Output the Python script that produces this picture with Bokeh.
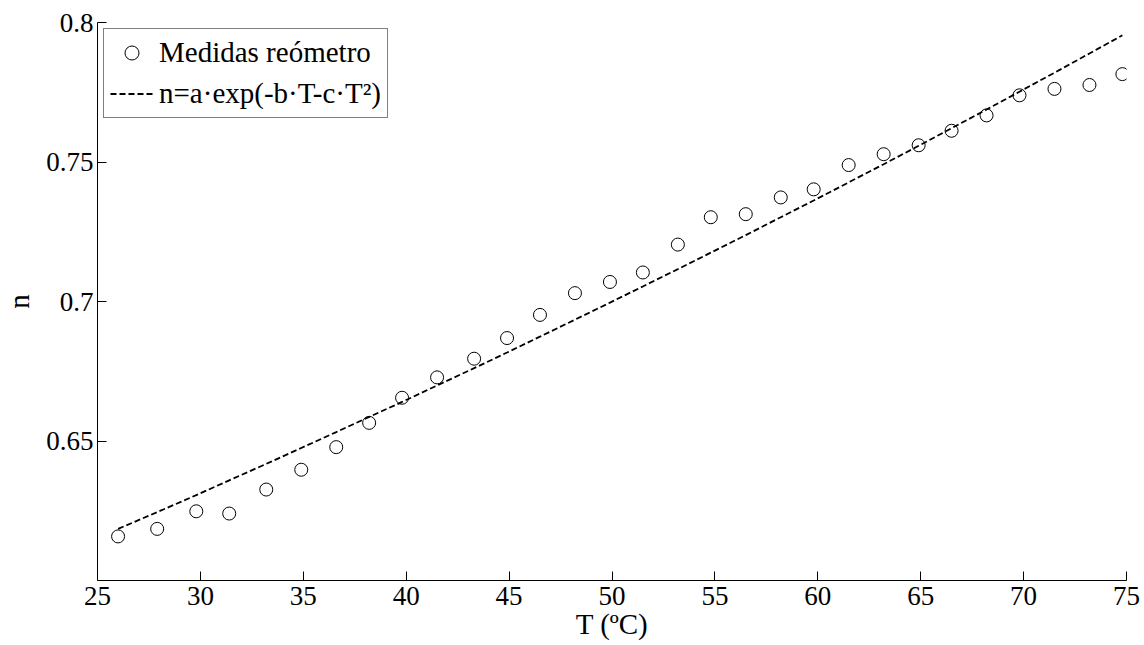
from bokeh.plotting import figure
from bokeh.models import Range1d, FixedTicker, Legend, LegendItem
from bokeh.embed import file_html
from bokeh.resources import INLINE

# Data
T = [26.0, 27.9, 29.8, 31.4, 33.2, 34.9, 36.6, 38.2, 39.8, 41.5,
     43.3, 44.9, 46.5, 48.2, 49.9, 51.5, 53.2, 54.8, 56.5, 58.2,
     59.8, 61.5, 63.2, 64.9, 66.5, 68.2, 69.8, 71.5, 73.2, 74.8]
n_medidas = [0.6158, 0.6185, 0.6248, 0.6240, 0.6326, 0.6397, 0.6478, 0.6565, 0.6655, 0.6728,
             0.6795, 0.6869, 0.6952, 0.7030, 0.7070, 0.7104, 0.7204, 0.7302, 0.7313, 0.7373,
             0.7402, 0.7489, 0.7528, 0.7560, 0.7612, 0.7667, 0.7739, 0.7762, 0.7776, 0.7815]
n_ajuste = [0.6185, 0.6245, 0.6306, 0.6359, 0.6418, 0.6475, 0.6532, 0.6586, 0.6640, 0.6699,
            0.6761, 0.6817, 0.6874, 0.6935, 0.6996, 0.7054, 0.7116, 0.7175, 0.7238, 0.7302,
            0.7362, 0.7427, 0.7492, 0.7558, 0.7621, 0.7688, 0.7752, 0.7820, 0.7889, 0.7954]
x_ticks = [25, 30, 35, 40, 45, 50, 55, 60, 65, 70, 75]
y_ticks = [0.65, 0.7, 0.75, 0.8]
y_tick_labels = ["0.65", "0.7", "0.75", "0.8"]
label_medidas = "Medidas reómetro"
label_ajuste = "n=a·exp(-b·T-c·T²)"

FONT = "Liberation Serif"
FS_TICK = "27px"
FS_LABEL = "29px"

p = figure(width=1144, height=645,
           min_border_left=94, min_border_top=22, min_border_right=18, min_border_bottom=65,
           x_range=Range1d(25, 75), y_range=Range1d(0.6, 0.8),
           output_backend="svg", toolbar_location=None,
           background_fill_color="white", border_fill_color="white")
p.outline_line_color = None
p.xgrid.visible = False
p.ygrid.visible = False

r_line = p.line(T, n_ajuste, line_color="black", line_width=1.8, line_dash="6 3")
r_pts = p.scatter(T, n_medidas, marker="circle", size=13, line_color="black",
                  line_width=1, fill_alpha=0)

for ax in (p.xaxis[0], p.yaxis[0]):
    ax.axis_line_color = "black"
    ax.axis_line_width = 1
    ax.major_tick_in = 9
    ax.major_tick_out = 0
    ax.minor_tick_line_color = None
    ax.major_tick_line_color = "black"
    ax.major_label_text_font = FONT
    ax.major_label_text_font_size = FS_TICK
    ax.major_label_text_color = "black"
    ax.axis_label_text_font = FONT
    ax.axis_label_text_font_size = FS_LABEL
    ax.axis_label_text_font_style = "normal"
    ax.axis_label_text_color = "black"

p.xaxis.ticker = FixedTicker(ticks=x_ticks)
p.yaxis.ticker = FixedTicker(ticks=y_ticks)
p.yaxis.major_label_overrides = {t: s for t, s in zip(y_ticks, y_tick_labels)}
p.xaxis.axis_label = "T (ºC)"
p.yaxis.axis_label = "n"
p.xaxis.major_label_standoff = 6
p.xaxis.axis_label_standoff = 0
p.yaxis.major_label_standoff = 4
p.yaxis.axis_label_standoff = 8

legend = Legend(items=[LegendItem(label=label_medidas, renderers=[r_pts]),
                       LegendItem(label=label_ajuste, renderers=[r_line])],
                location="top_left")
legend.margin = 6
legend.padding = 6
legend.spacing = 6
legend.glyph_width = 43
legend.glyph_height = 35
legend.label_height = 35
legend.label_standoff = 6
legend.label_text_font = FONT
legend.label_text_font_size = FS_LABEL
legend.label_text_color = "black"
legend.border_line_color = "black"
legend.border_line_width = 1
legend.background_fill_color = "white"
legend.background_fill_alpha = 1
p.add_layout(legend)

open("out.html", "w").write(file_html(p, INLINE))
